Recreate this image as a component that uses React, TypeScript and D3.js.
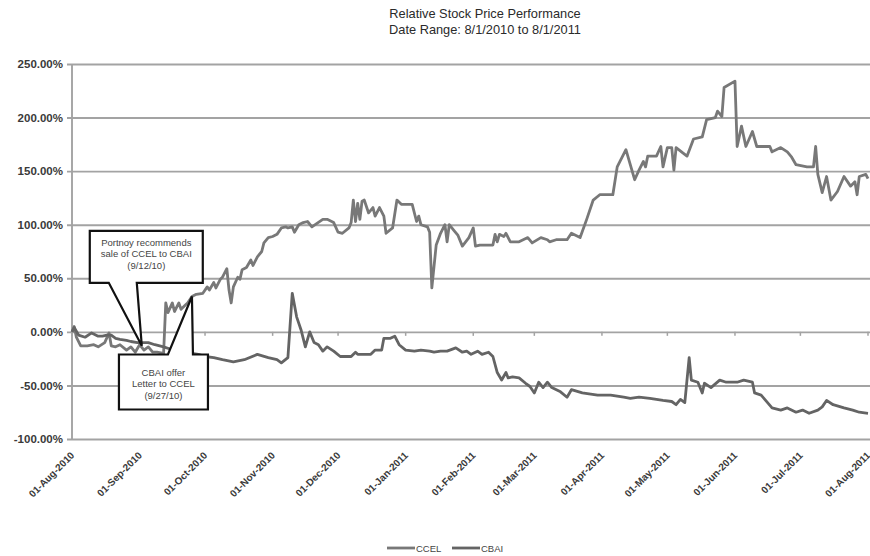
import React, { useEffect, useRef } from "react"
import * as d3 from "d3"

// first and last day of the x axis
const START = new Date(2010, 7, 1)
const END = new Date(2011, 7, 1)

// days after 01-Aug-2010 and relative price change (%)
const ccelDays = [
	0, 1, 2, 4, 7, 10, 12, 15, 17, 18, 20, 22, 25, 27, 29, 31, 33, 35, 37, 39, 42, 43, 44, 46, 47, 49, 50, 52, 53, 55, 57,
	60, 62, 63, 65, 66, 68, 69, 71, 72, 73, 74, 76, 77, 78, 80, 82, 83, 85, 87, 88, 90, 92, 94, 96, 98, 99, 101, 102,
	104, 106, 108, 110, 115, 117, 120, 122, 124, 127, 128, 129, 130, 131, 132, 133, 134, 136, 138, 139, 141, 143, 144,
	147, 149, 151, 156, 158, 159, 160, 163, 164, 165, 167, 169, 171, 172, 173, 175, 177, 179, 182, 184, 185, 187, 193,
	194, 195, 196, 198, 199, 201, 205, 209, 211, 215, 218, 219, 222, 227, 229, 233, 236, 239, 242, 248, 250, 254, 258,
	260, 262, 263, 264, 268, 270, 271, 273, 275, 276, 277, 282, 285, 289, 291, 295, 296, 298, 299, 304, 305, 307, 309,
	312, 314, 320, 321, 325, 328, 330, 332, 337, 340, 341, 342, 344, 346, 348, 351, 354, 357, 359, 360, 361, 364, 365,
]
const ccelValues = [
	0, 5, -5, -13, -13, -12, -14, -10, -1, -13, -14, -12, -17, -14, -19, -12, -17, -14, -19, -19, -20, 27, 18, 27, 19, 27,
	21, 25, 27, 33, 35, 36, 42, 39, 46, 41, 49, 51, 59, 39, 27, 42, 51, 49, 58, 60, 67, 62, 70, 75, 83, 88, 89, 91, 97,
	98, 97, 98, 93, 100, 102, 103, 98, 105, 105, 102, 93, 92, 97, 102, 123, 103, 120, 105, 122, 123, 111, 116, 108, 116,
	108, 92, 97, 123, 119, 119, 103, 108, 100, 98, 93, 41, 81, 92, 100, 84, 100, 95, 90, 80, 88, 97, 80, 81, 81, 91, 84,
	91, 89, 92, 84, 84, 88, 83, 88, 86, 84, 86, 86, 92, 88, 105, 123, 128, 128, 154, 170, 142, 151, 159, 154, 164, 164,
	173, 154, 172, 172, 151, 172, 164, 180, 182, 198, 200, 206, 201, 228, 234, 173, 192, 173, 187, 173, 173, 168, 172,
	168, 163, 156, 154, 154, 173, 147, 130, 145, 123, 131, 145, 136, 140, 128, 145, 147, 143,
]
const cbaiDays = [
	0, 1, 3, 6, 9, 12, 14, 16, 18, 20, 22, 25, 27, 30, 33, 35, 38, 42, 45, 48, 51, 55, 58, 61, 65, 69, 74, 79, 85, 90, 94,
	96, 99, 101, 103, 105, 107, 109, 111, 113, 115, 117, 120, 123, 128, 130, 131, 137, 139, 142, 143, 146, 148, 150, 153,
	157, 160, 164, 166, 169, 172, 176, 179, 181, 183, 186, 188, 191, 193, 195, 197, 199, 200, 202, 205, 208, 210, 212,
	214, 216, 218, 220, 224, 227, 229, 234, 241, 247, 253, 256, 260, 265, 271, 275, 277, 279, 281, 283, 284, 287, 289,
	290, 293, 297, 300, 305, 308, 312, 313, 316, 321, 325, 328, 332, 335, 338, 342, 344, 346, 349, 354, 358, 361, 365,
]
const cbaiValues = [
	0, 4, -3, -5, -1, -4, -4, -3, -3, -6, -7, -8, -9, -10, -10, -10, -12, -14, -16, -19, -20, -20, -21, -23, -24, -26, -28,
	-26, -21, -24, -26, -29, -24, 36, 14, 2, -14, 0, -10, -12, -18, -14, -18, -23, -23, -19, -21, -21, -17, -17, -6, -6,
	-4, -12, -17, -18, -17, -18, -19, -18, -18, -15, -19, -18, -21, -18, -21, -19, -23, -38, -45, -38, -43, -42, -43, -48,
	-51, -57, -47, -52, -47, -52, -56, -61, -54, -57, -59, -59, -61, -62, -61, -62, -64, -65, -68, -63, -66, -24, -45, -47,
	-57, -48, -52, -45, -47, -47, -45, -47, -57, -59, -71, -73, -71, -75, -73, -76, -73, -70, -64, -68, -71, -73, -75, -76,
]

const seriesNames = ["CCEL", "CBAI"]
const seriesColors = ["#787878", "#646464"]
const yTicks = [-100, -50, 0, 50, 100, 150, 200, 250]

// callouts: tip in data units, box and pointer base as pixel offsets from the tip
const notes = [
	{
		lines: ["Portnoy recommends", "sale of CCEL to CBAI", "(9/12/10)"],
		day: 32,
		value: -13,
		box: [-52, -115, 61, -63],
		base: [-33, -5],
		textTop: 15,
	},
	{
		lines: ["CBAI offer", "Letter to CCEL", "(9/27/10)"],
		day: 55,
		value: 33,
		box: [-73, 58, 16, 113],
		base: [-24, 1],
		textTop: 21,
	},
]

const W = 870
const H = 556
const margin = { top: 64, right: 2, bottom: 117, left: 72 }
const FONT = "'Liberation Sans', Arial, sans-serif"

const toDate = (d: number) => d3.timeDay.offset(START, d)

export default function App() {
	const ref = useRef<SVGSVGElement>(null)

	useEffect(() => {
		const svg = d3.select(ref.current)
		svg.selectAll("*").remove()

		const x = d3.scaleTime().domain([START, END]).range([margin.left, W - margin.right])
		const y = d3.scaleLinear().domain([-100, 250]).range([H - margin.bottom, margin.top])

		// title
		const title = svg.append("g").attr("font-family", FONT).attr("font-size", 12.8).attr("fill", "#2a2a2a").attr("text-anchor", "middle")
		title.append("text").attr("x", 485).attr("y", 17.5).text("Relative Stock Price Performance")
		title.append("text").attr("x", 485).attr("y", 34).text("Date Range: 8/1/2010 to 8/1/2011")

		// grid + y axis
		const yAxis = d3
			.axisLeft(y)
			.tickValues(yTicks)
			.tickSize(0)
			.tickFormat((d) => `${(+d).toFixed(2)}%`)
		const gy = svg.append("g").attr("transform", `translate(${margin.left},0)`)
		gy.call(yAxis)
		gy.select(".domain").remove()
		gy.selectAll(".tick line")
			.attr("x1", -5)
			.attr("x2", W - margin.left)
			.attr("stroke", "#a3a3a3")
			.attr("stroke-width", 1.9)
		gy.selectAll(".tick text")
			.attr("font-family", FONT)
			.attr("font-size", 11.5)
			.attr("font-weight", "bold")
			.attr("fill", "#3a3a3a")
			.attr("x", -9)
		svg.append("line")
			.attr("x1", margin.left)
			.attr("x2", margin.left)
			.attr("y1", y(250))
			.attr("y2", y(-100))
			.attr("stroke", "#a3a3a3")
			.attr("stroke-width", 1.9)

		// x axis: ticks on the zero line, labels at the bottom
		const months = d3.timeMonth.range(START, d3.timeDay.offset(END, 1))
		const fmt = d3.timeFormat("%d-%b-%Y")
		svg.append("g")
			.selectAll("line")
			.data(months)
			.join("line")
			.attr("x1", (d) => x(d))
			.attr("x2", (d) => x(d))
			.attr("y1", y(0))
			.attr("y2", y(0) + 4)
			.attr("stroke", "#a3a3a3")
			.attr("stroke-width", 1.5)
		svg.append("g")
			.selectAll("text")
			.data(months)
			.join("text")
			.attr("transform", (d) => `translate(${x(d) + 3},${y(-100) + 17}) rotate(-45)`)
			.attr("text-anchor", "end")
			.attr("font-family", FONT)
			.attr("font-weight", "bold")
			.attr("font-size", 10)
			.attr("fill", "#3a3a3a")
			.text((d) => fmt(d))

		// series
		const line = d3
			.line<[number, number]>()
			.x((d) => x(toDate(d[0])))
			.y((d) => y(d[1]))
		const series: [number, number][][] = [
			ccelDays.map((d, i) => [d, ccelValues[i]]),
			cbaiDays.map((d, i) => [d, cbaiValues[i]]),
		]
		series.forEach((s, i) => {
			svg.append("path")
				.datum(s)
				.attr("d", line)
				.attr("fill", "none")
				.attr("stroke", seriesColors[i])
				.attr("stroke-width", 2.8)
				.attr("stroke-linejoin", "round")
		})

		// callouts
		notes.forEach((n) => {
			const tx = x(toDate(n.day))
			const ty = y(n.value)
			const [bx0, by0, bx1, by1] = [tx + n.box[0], ty + n.box[1], tx + n.box[2], ty + n.box[3]]
			const [p0, p1] = [tx + n.base[0], tx + n.base[1]]
			const pts =
				by1 < ty
					? [[bx0, by0], [bx1, by0], [bx1, by1], [p1, by1], [tx, ty], [p0, by1], [bx0, by1]]
					: [[bx0, by0], [p0, by0], [tx, ty], [p1, by0], [bx1, by0], [bx1, by1], [bx0, by1]]
			svg.append("path")
				.attr("d", "M" + pts.map((p) => p.join(",")).join("L") + "Z")
				.attr("fill", "#fff")
				.attr("stroke", "#111")
				.attr("stroke-width", 2.2)
				.attr("stroke-linejoin", "miter")
			svg.append("g")
				.selectAll("text")
				.data(n.lines)
				.join("text")
				.attr("x", (bx0 + bx1) / 2)
				.attr("y", (d, i) => by0 + n.textTop + i * 11.5)
				.attr("text-anchor", "middle")
				.attr("font-family", FONT)
				.attr("font-size", 9.5)
				.attr("fill", "#444")
				.text((d) => d)
		})

		// legend
		const lg = svg.append("g").attr("transform", `translate(387,548)`)
		seriesNames.forEach((name, i) => {
			const g = lg.append("g").attr("transform", `translate(${i * 65},0)`)
			g.append("line").attr("x1", 0).attr("x2", 28).attr("stroke", seriesColors[i]).attr("stroke-width", 2.8)
			g.append("text")
				.attr("x", 29)
				.attr("y", 3.5)
				.attr("font-family", FONT)
				.attr("font-size", 9.5)
				.attr("fill", "#444")
				.text(name)
		})
	}, [])

	return <svg ref={ref} width={W} height={H} style={{ position: "absolute", left: 0, top: 0, background: "#fff" }} />
}
